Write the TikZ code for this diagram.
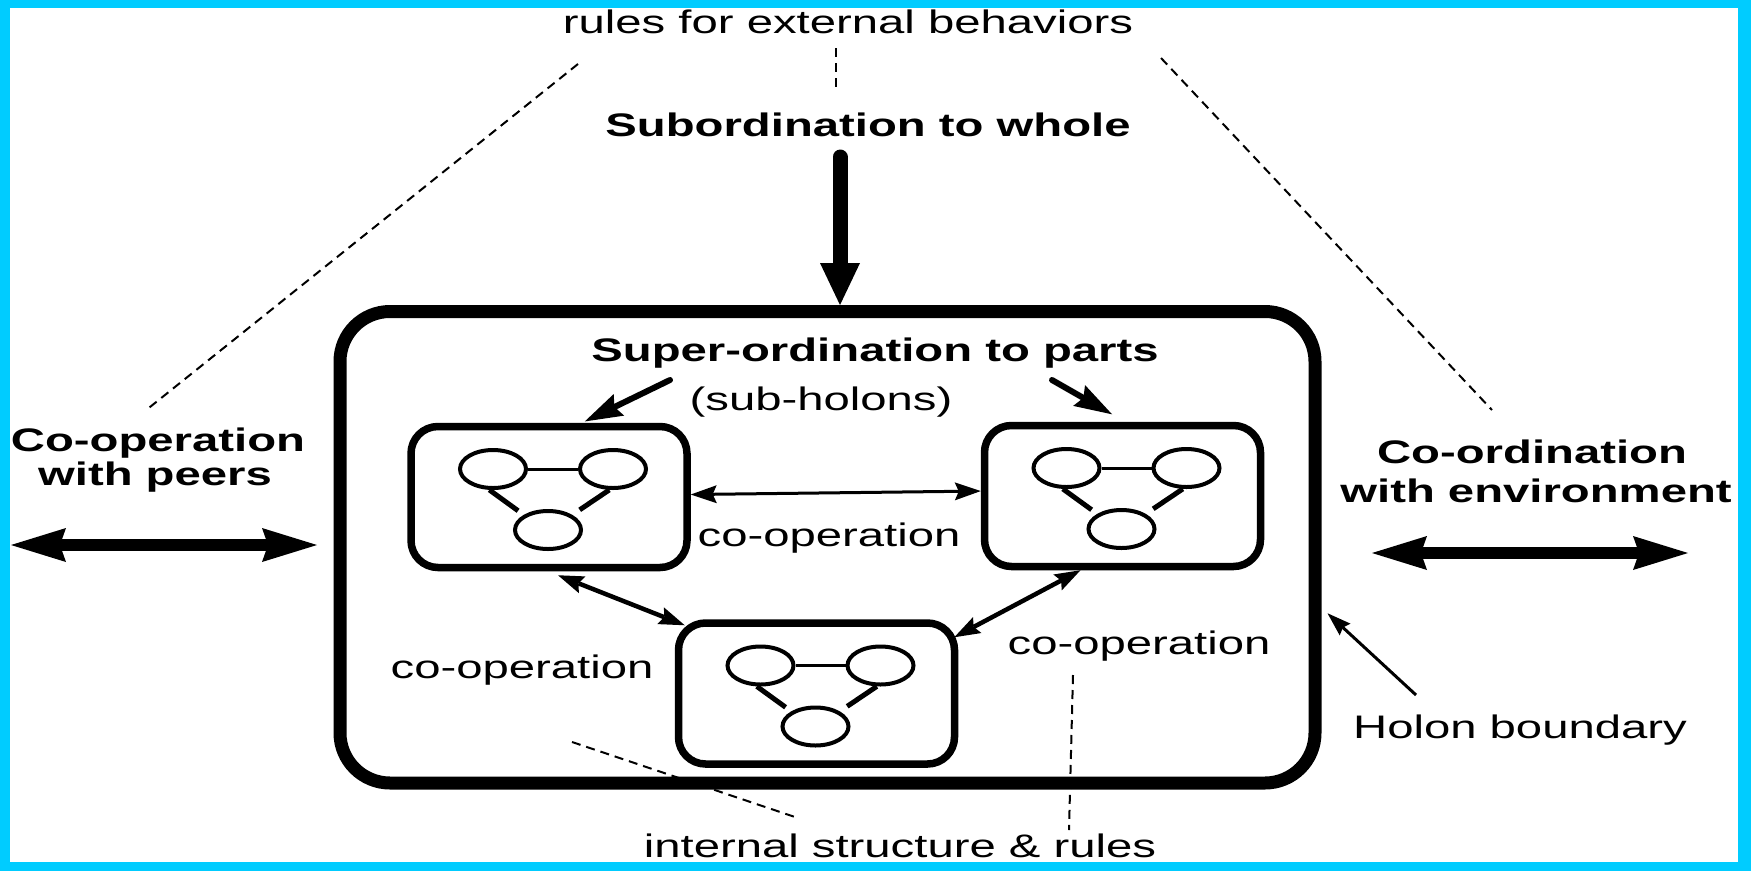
\documentclass[tikz,border=0pt]{standalone}
\usepackage{fontspec}
\setmainfont{Liberation Sans}
\usetikzlibrary{arrows.meta,shapes.geometric,calc}
\definecolor{framecyan}{RGB}{0,204,255}
% labels are set in a horizontally widened sans face
\newcommand{\wtext}[1]{\scalebox{1.45}[1]{#1}}

\tikzset{
  bighead/.tip={Triangle[length=42pt,width=40pt,line width=0pt]},
  widehead/.tip={Stealth[length=55pt,width=34pt,inset=6pt,line width=0pt]},
  midhead/.tip={Stealth[length=38pt,width=24pt,inset=5pt,line width=0pt]},
  smallhead/.tip={Stealth[length=26pt,width=18pt,inset=4pt,line width=0pt]},
  thinhead/.tip={Stealth[length=24pt,width=16pt,inset=3pt,line width=0pt]},
  parts/.pic={
    \node[part] (-l) at (-56,-28) {};
    \node[part] (-r) at (64,-28) {};
    \node[part] (-b) at (-1,33) {};
    \draw[line width=3pt] (-l) -- (-r);
    \draw[line width=5pt, shorten >=7pt] (-l.-100) -- (-b.148);
    \draw[line width=5pt, shorten >=9pt] (-r.-100) -- (-b.32);
  }
}

\begin{document}
\begin{tikzpicture}[x=1pt,y=-1pt,
  lbl/.style={inner sep=0pt, anchor=base, font=\fontsize{32.6}{36}\selectfont},
  blbl/.style={inner sep=0pt, anchor=base, font=\fontsize{32.6}{36}\selectfont\bfseries},
  holonbox/.style={draw, line width=13pt, rounded corners=50pt,
    minimum width=975pt, minimum height=471.5pt, inner sep=0pt},
  subbox/.style={draw, line width=7.5pt, rounded corners=27pt,
    minimum width=276pt, minimum height=141pt, inner sep=0pt},
  part/.style={draw, ellipse, line width=4pt, minimum width=66pt,
    minimum height=38pt, inner sep=0pt},
  guide/.style={line width=2pt, dash pattern=on 9pt off 6pt},
  flowdown/.style={line width=15pt, line cap=round, -{bighead}},
  peerflow/.style={line width=12pt, {widehead}-{widehead}},
  partflow/.style={line width=6pt, line cap=round, -{midhead}},
  coopflow/.style={line width=4.5pt, {smallhead}-{smallhead}},
  coopline/.style={line width=3pt, {smallhead}-{smallhead}},
  pointer/.style={line width=3pt, -{thinhead}}
]
\useasboundingbox (0,0) rectangle (1751,871);
\fill[framecyan] (0,0) rectangle (1751,871);
\fill[white] (10,8) rectangle (1738,862);

% holon and its sub-holons
\node[holonbox] (holon) at (827.5,547.25) {};
\node[subbox] (sA) at (549,497) {};
\node[subbox] (sB) at (1122.5,496) {};
\node[subbox] (sC) at (816.5,693.5) {};
\pic (pa) at (sA) {parts};
\pic (pb) at (sB) {parts};
\pic (pc) at (sC) {parts};

% labels
\node[lbl] (extrules) at (848,33) {\wtext{rules for external behaviors}};
\node[blbl] (subwhole) at (868,136) {\wtext{Subordination to whole}};
\node[blbl] (superparts) at (875,361) {\wtext{Super-ordination to parts}};
\node[lbl] (subholons) at (821,410) {\wtext{(sub-holons)}};
\node[blbl] (peersA) at (158,451) {\wtext{Co-operation}};
\node[blbl] (peersB) at (155,485) {\wtext{with peers}};
\node[blbl] (envA) at (1532,463) {\wtext{Co-ordination}};
\node[blbl] (envB) at (1536,502) {\wtext{with environment}};
\node[lbl] (coopAB) at (829,546) {\wtext{co-operation}};
\node[lbl] (coopAC) at (522,678) {\wtext{co-operation}};
\node[lbl] (coopBC) at (1139,654) {\wtext{co-operation}};
\node[lbl] (boundary) at (1520,738) {\wtext{Holon boundary}};
\node[lbl] (internal) at (900,857) {\wtext{internal structure \& rules}};

% free ends of arrows and guide lines
\coordinate (wholeTop) at (840,157);
\coordinate (partsL) at (670,380);
\coordinate (partsR) at (1052,380);
\coordinate (peerL) at (11,545);
\coordinate (peerR) at (317,545);
\coordinate (envL) at (1372,553);
\coordinate (envR) at (1688,553);
\coordinate (bndTail) at (1416,695);
\coordinate (gA1) at (578,64);   \coordinate (gA2) at (145,411);
\coordinate (gB1) at (836,48);   \coordinate (gB2) at (836,92);
\coordinate (gC1) at (1161,58);  \coordinate (gC2) at (1492,410);
\coordinate (gD1) at (572,742);  \coordinate (gD2) at (798,818);
\coordinate (gE1) at (1073,675); \coordinate (gE2) at (1069,830);

% dashed guide lines
\draw[guide] (gA1) -- (gA2);
\draw[guide] (gB1) -- (gB2);
\draw[guide] (gC1) -- (gC2);
\draw[guide] (gD1) -- (gD2);
\draw[guide] (gE1) -- (gE2);

% arrows
\draw[flowdown] (wholeTop) -- (wholeTop |- holon.north);
\draw[partflow, shorten >=3pt] (partsL) -- (sA.66.7);
\draw[partflow, shorten >=15pt] (partsR) -- (sB.88);
\draw[peerflow] (peerL) -- (peerR);
\draw[peerflow] (envL) -- (envR);
\draw[coopline] (sA.1.6) -- (sB.178.4);
\draw[coopflow] ($(sA.south)+(9,4)$) -- ($(sC.north west)+(10,6)$);
\draw[coopflow] ($(sB.south)+(-42,0)$) -- ($(sC.north east)+(-4,18)$);
\draw[pointer] (bndTail) -- ($(holon.east)+(6,66)$);
\end{tikzpicture}
\end{document}
